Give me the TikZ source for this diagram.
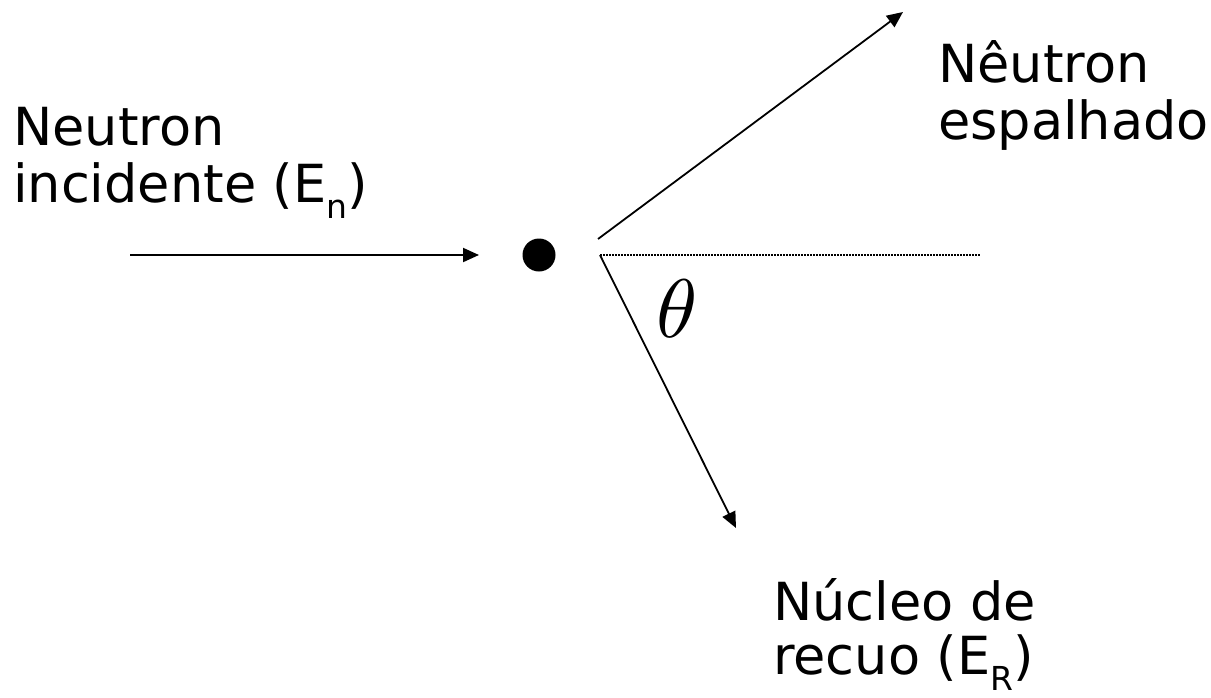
\documentclass[tikz,border=0pt]{standalone}
\usepackage{fontspec}
\setmainfont{DejaVu Sans}
\usetikzlibrary{arrows.meta}
\newcommand{\subtxt}[1]{\raisebox{-0.32em}{\fontsize{33}{33}\selectfont #1}}
\tikzset{
  lbl/.style={anchor=base west, inner sep=0pt, font=\fontsize{52.5}{58}\selectfont},
  ray/.style={line width=1.8pt, -{Triangle[length=16pt,width=14pt]}},
  ref/.style={line width=1.2pt, dash pattern=on 1.5pt off 1.5pt},
}
\begin{document}
\begin{tikzpicture}[x=1pt,y=-1pt]
\useasboundingbox (0,0) rectangle (1211,697);
% nucleus
\node[circle, fill=black, minimum size=33pt, inner sep=0pt] (nuc) at (539,255) {};
% free ends
\coordinate (src) at (130,255);
\coordinate (hit) at (479,255);
\coordinate (o1) at (598,239);
\coordinate (o2) at (600,255);
\coordinate (scat) at (903,12);
\coordinate (rec) at (736,528);
\coordinate (axis) at (981,255);
% connectors
\draw[ray, line width=2pt] (src) -- (hit);
\draw[ray] (o1) -- (scat);
\draw[ray] (o2) -- (rec);
\draw[ref] (o2) -- (axis);
% angle label
\node[scale=8.3, inner sep=0pt] (theta) at (677,309) {$\theta$};
% labels
\node[lbl] (inc1) at (13,145) {Neutron};
\node[lbl] (inc2) at (13,202) {incidente (E\subtxt{n})};
\node[lbl] (sc1) at (938,82) {Nêutron};
\node[lbl] (sc2) at (938,139) {espalhado};
\node[lbl] (rc1) at (773,620) {Núcleo de};
\node[lbl] (rc2) at (773,674) {recuo (E\subtxt{R})};
\end{tikzpicture}
\end{document}
